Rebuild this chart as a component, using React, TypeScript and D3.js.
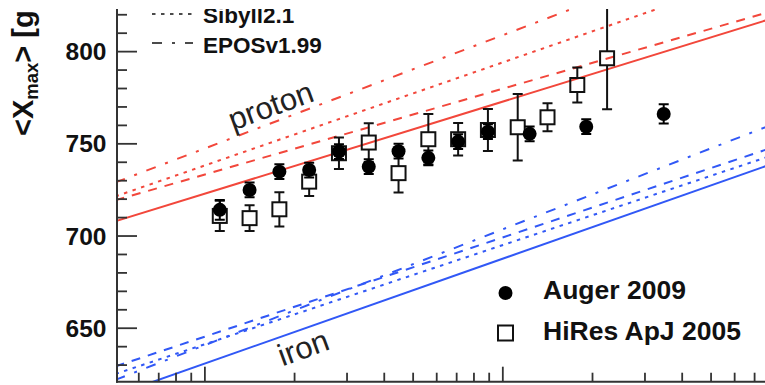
import React from 'react';
import * as d3 from 'd3';

// Energy as log10(E/eV), depth of shower maximum in g/cm^2
const augerLgE = [18.05, 18.15, 18.25, 18.35, 18.45, 18.55, 18.65, 18.75, 18.85, 18.95, 19.09, 19.28, 19.54];
const augerXmax = [714.2, 725.0, 734.9, 735.8, 745.8, 737.6, 746.0, 742.4, 751.2, 756.6, 755.4, 759.3, 766.2];
const augerErr = [5.4, 4, 4, 4, 4, 4, 4, 4, 4, 4, 4, 4, 5.2];

const hiresLgE = [18.05, 18.15, 18.25, 18.35, 18.45, 18.55, 18.65, 18.75, 18.85, 18.95, 19.05, 19.15, 19.25, 19.35];
const hiresXmax = [710.9, 709.7, 714.5, 729.5, 744.9, 750.7, 734.1, 752.5, 752.5, 757.5, 759.0, 764.4, 781.9, 796.4];
const hiresErr = [8.2, 7, 9.3, 7.8, 8.6, 10.5, 10.5, 13.7, 8.8, 11.4, 18, 7.6, 9.5, 27.7];

// Model predictions, evaluated at the ends of the energy range
const modelLgE = [17.7, 19.9];
const protonQGSJETII = [708.0, 817.8];
const protonQGSJET01 = [719.4, 821.8];
const protonSibyll = [721.5, 844.5];
const protonEPOS = [729.1, 864.2];
const ironQGSJETII = [613.8, 738.9];
const ironQGSJET01 = [629.3, 747.7];
const ironSibyll = [625.2, 743.5];
const ironEPOS = [622.0, 760.2];

const yTicks = d3.range(630, 821, 10);
const yLabels = [650, 700, 750, 800];
const legendModels = ['Sibyll2.1', 'EPOSv1.99'];
const legendData = ['Auger 2009', 'HiRes ApJ 2005'];

const W = 765;
const H = 385;
const RED = '#f2473b';
const BLUE = '#3158f6';
const AXIS = '#333';
const FONT = "'Liberation Sans', Arial, Helvetica, sans-serif";

const DASHED = '9,8';
const DOTTED = '3.5,5.5';
const DASHDOT = '10,10,3,10';

export default function App() {
  const left = 117;
  const right = W;
  const bottom = 381.7;
  const top = 0;

  const x = d3.scaleLog().domain([10 ** 17.705, 10 ** 19.88]).range([left, right]);
  const xl = (lg: number) => x(10 ** lg);
  const y = d3.scaleLinear().domain([621, 828]).range([bottom, top]);

  const line = d3
    .line<[number, number]>()
    .x((d) => xl(d[0]))
    .y((d) => y(d[1]));

  const models = [
    { v: protonEPOS, color: RED, dash: DASHDOT },
    { v: protonSibyll, color: RED, dash: DOTTED },
    { v: protonQGSJET01, color: RED, dash: DASHED },
    { v: protonQGSJETII, color: RED, dash: undefined },
    { v: ironEPOS, color: BLUE, dash: DASHDOT },
    { v: ironSibyll, color: BLUE, dash: DOTTED },
    { v: ironQGSJET01, color: BLUE, dash: DASHED },
    { v: ironQGSJETII, color: BLUE, dash: undefined },
  ];

  // log-axis tick marks: 1..9 in each decade
  const xTicks: { lg: number; major: boolean }[] = [];
  [17, 18, 19].forEach((dec) => {
    d3.range(1, 10).forEach((m) => {
      const lg = dec + Math.log10(m);
      const px = xl(lg);
      if (px > left + 1 && px < right) xTicks.push({ lg, major: m === 1 });
    });
  });

  const sq = 14;
  const cap = 5;
  const r = 7;

  return (
    <svg
      width={W}
      height={H}
      style={{ position: 'absolute', left: 0, top: 0, background: '#fff' }}
      fontFamily={FONT}
    >
      <defs>
        <clipPath id="plotArea">
          <rect x={left} y={9} width={right - left} height={bottom - 9} />
        </clipPath>
        <clipPath id="page">
          <rect x={0} y={9} width={W} height={H - 9} />
        </clipPath>
      </defs>
      <rect width={W} height={H} fill="#fff" />

      <g clipPath="url(#plotArea)">
        {models.map((m, i) => (
          <path
            key={i}
            d={line(modelLgE.map((lg, j) => [lg, m.v[j]] as [number, number])) || ''}
            fill="none"
            stroke={m.color}
            strokeWidth={2}
            strokeDasharray={m.dash}
          />
        ))}

        {/* HiRes: open squares, bars drawn outside the marker */}
        {hiresLgE.map((lg, i) => {
          const cx = xl(lg);
          const cy = y(hiresXmax[i]);
          const yt = y(hiresXmax[i] + hiresErr[i]);
          const yb = y(hiresXmax[i] - hiresErr[i]);
          return (
            <g key={'h' + i} stroke="#111" strokeWidth={2} fill="none">
              {yt < cy - sq / 2 && <line x1={cx} x2={cx} y1={yt} y2={cy - sq / 2} />}
              {yb > cy + sq / 2 && <line x1={cx} x2={cx} y1={cy + sq / 2} y2={yb} />}
              <line x1={cx - cap} x2={cx + cap} y1={yt} y2={yt} />
              <line x1={cx - cap} x2={cx + cap} y1={yb} y2={yb} />
              <rect x={cx - sq / 2} y={cy - sq / 2} width={sq} height={sq} />
            </g>
          );
        })}

        {/* Auger: filled circles */}
        {augerLgE.map((lg, i) => {
          const cx = xl(lg);
          const cy = y(augerXmax[i]);
          const yt = y(augerXmax[i] + augerErr[i]);
          const yb = y(augerXmax[i] - augerErr[i]);
          return (
            <g key={'a' + i} stroke="#000" strokeWidth={2}>
              <line x1={cx} x2={cx} y1={yt} y2={yb} />
              <line x1={cx - cap} x2={cx + cap} y1={yt} y2={yt} />
              <line x1={cx - cap} x2={cx + cap} y1={yb} y2={yb} />
              <circle cx={cx} cy={cy} r={r} fill="#000" stroke="none" />
            </g>
          );
        })}
      </g>

      <g clipPath="url(#page)">
        {/* axes */}
        <line x1={left} x2={left} y1={top} y2={bottom + 1} stroke={AXIS} strokeWidth={2} />
        <line x1={left - 1} x2={right} y1={bottom} y2={bottom} stroke={AXIS} strokeWidth={2} />
        {yTicks.map((t) => (
          <line
            key={'yt' + t}
            x1={left}
            x2={left + (t % 50 === 0 ? 20 : 10)}
            y1={y(t)}
            y2={y(t)}
            stroke={AXIS}
            strokeWidth={1.8}
          />
        ))}
        {xTicks.map((t, i) => (
          <line
            key={'xt' + i}
            x1={xl(t.lg)}
            x2={xl(t.lg)}
            y1={bottom}
            y2={bottom - (t.major ? 15 : 9)}
            stroke={AXIS}
            strokeWidth={1.8}
          />
        ))}
        {yLabels.map((t) => (
          <text
            key={'yl' + t}
            x={106.5}
            y={y(t) + 8.5}
            textAnchor="end"
            fontSize={24.5}
            fontWeight="bold"
            fill="#111"
          >
            {t}
          </text>
        ))}

        {/* model legend */}
        <line x1={152} x2={193} y1={14} y2={14} stroke="#111" strokeWidth={1.5} strokeDasharray={DOTTED} />
        <line x1={152} x2={193} y1={43} y2={43} stroke="#111" strokeWidth={1.5} strokeDasharray={DASHDOT} />
        <text x={203} y={22.7} fontSize={22.5} fontWeight="bold" fill="#111">
          {legendModels[0]}
        </text>
        <text x={203} y={52.7} fontSize={22.5} fontWeight="bold" fill="#111">
          {legendModels[1]}
        </text>

        {/* composition labels */}
        <text
          transform="translate(271.5,108) rotate(-20)"
          textAnchor="middle"
          dominantBaseline="middle"
          fontSize={31}
          fill="#222"
        >
          proton
        </text>
        <text
          transform="translate(304,350) rotate(-20)"
          textAnchor="middle"
          dominantBaseline="middle"
          fontSize={31}
          fill="#222"
        >
          iron
        </text>

        {/* data legend */}
        <circle cx={505.5} cy={293} r={r} fill="#000" />
        <rect x={505.5 - 7.5} y={333 - 7.5} width={15} height={15} fill="none" stroke="#111" strokeWidth={2} />
        <text x={543} y={299.3} fontSize={26.5} fontWeight="bold" fill="#111">
          {legendData[0]}
        </text>
        <text x={543} y={340} fontSize={26.5} fontWeight="bold" fill="#111">
          {legendData[1]}
        </text>

        {/* y-axis title */}
        <text transform="translate(33,136) rotate(-90)" fontSize={29} fontWeight="bold" fill="#111">
          {'<X'}
          <tspan fontSize={18.5} dy={5}>
            max
          </tspan>
          <tspan dy={-5}>{'> [g'}</tspan>
        </text>
      </g>
    </svg>
  );
}
